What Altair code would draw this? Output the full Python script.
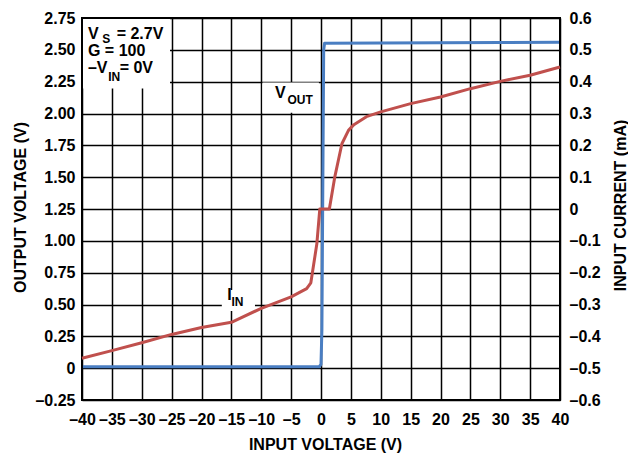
import altair as alt
import pandas as pd

# Output voltage vs input voltage (left axis, V)
vout_x = [-40, -20, -0.3, 0.0, 0.15, 0.45, 0.6, 10, 20, 30, 40]
vout_y = [0.011, 0.011, 0.011, 0.03, 0.3, 2.5, 2.552, 2.553, 2.555, 2.557, 2.56]

# Input current vs input voltage (right axis, mA)
iin_x = [-40, -35, -30, -25, -20, -15, -10, -5, -2.4, -1.7, -0.7, -0.2, 1.4,
         2.3, 3.5, 4.6, 5.5, 7.6, 10, 15, 20, 25, 30, 35, 40]
iin_y = [-0.469, -0.445, -0.42, -0.394, -0.372, -0.356, -0.312, -0.276, -0.25,
         -0.232, -0.11, 0.0, 0.0, 0.1, 0.205, 0.247, 0.265, 0.29, 0.305, 0.331,
         0.352, 0.378, 0.401, 0.42, 0.446]

x_ticks = list(range(-40, 45, 5))
left_ticks = [-0.25, 0, 0.25, 0.5, 0.75, 1.0, 1.25, 1.5, 1.75, 2.0, 2.25, 2.5, 2.75]
right_ticks = [-0.6, -0.5, -0.4, -0.3, -0.2, -0.1, 0, 0.1, 0.2, 0.3, 0.4, 0.5, 0.6]

FONT = "Liberation Sans"
BLUE = "#4a7ec2"
RED = "#c0504d"

xs = alt.Scale(domain=[-40, 40], nice=False, zero=False)
yl = alt.Scale(domain=[-0.25, 2.75], nice=False, zero=False)
yr = alt.Scale(domain=[-0.6, 0.6], nice=False, zero=False)

vout_df = pd.DataFrame({"vin": vout_x, "vout": vout_y})
iin_df = pd.DataFrame({"vin": iin_x, "iin": iin_y})

# White label backgrounds (data units of the left axis)
boxes = pd.DataFrame({
    "x1": [-40, -9.8, -16.6],
    "x2": [-25.27, -0.35, -11.05],
    "y1": [2.197, 2.006, 0.448],
    "y2": [2.75, 2.244, 0.613],
})

# Annotation text pieces: main text and subscripts
labels = pd.DataFrame({
    "x": [-39.0, -36.6, -34.2, -39.0, -39.0, -35.6, -33.7, -7.7, -5.6, -15.7, -15.0],
    "y": [2.589, 2.55, 2.589, 2.452, 2.315, 2.252, 2.315, 2.119, 2.075, 0.534, 0.487],
    "text": ["V", "S", "= 2.7V", "G = 100", "\u2013V", "IN", "= 0V", "V", "OUT", "I", "IN"],
    "size": [16, 12, 16, 16, 16, 12, 16, 16, 12, 16, 12],
})

x_axis = alt.Axis(
    values=x_ticks, title="INPUT VOLTAGE (V)", grid=True, gridColor="black",
    gridWidth=1.5, gridOpacity=1, domain=False, ticks=False, labelPadding=11,
    labelOverlap=False, labelFlush=False,
    labelExpr="datum.value < 0 ? '\u2013' + format(-datum.value, 'd') : format(datum.value, 'd')",
    titleX=243, titleY=49, titleBaseline="alphabetic",
)
left_axis = alt.Axis(
    values=left_ticks, title="OUTPUT VOLTAGE (V)", grid=True, gridColor="black",
    gridWidth=1.5, gridOpacity=1, domain=False, ticks=False, labelPadding=7,
    labelOverlap=False, labelFlush=False,
    labelExpr="datum.value == 0 ? '0' : (datum.value < 0 ? '\u2013' + format(-datum.value, '.2f') : format(datum.value, '.2f'))",
    titleAngle=270, titleX=-62, titleY=189, titleBaseline="middle", titleAlign="center",
)
right_axis = alt.Axis(
    values=right_ticks, orient="right", title="INPUT CURRENT (mA)", grid=False,
    domain=False, ticks=False, labelPadding=9, labelOverlap=False, labelFlush=False,
    labelExpr="datum.value == 0 ? '0' : (datum.value < 0 ? '\u2013' + format(-datum.value, '.1f') : format(datum.value, '.1f'))",
    titleAngle=270, titleX=60, titleY=187, titleBaseline="middle", titleAlign="center",
)

base_boxes = alt.Chart(boxes).mark_rect(color="white").encode(
    x=alt.X("x1:Q", scale=xs, axis=x_axis),
    x2="x2:Q",
    y=alt.Y("y1:Q", scale=yl, axis=left_axis),
    y2="y2:Q",
)

vout_line = alt.Chart(vout_df).mark_line(color=BLUE, strokeWidth=3, strokeJoin="round").encode(
    x=alt.X("vin:Q", scale=xs, axis=x_axis),
    y=alt.Y("vout:Q", scale=yl, axis=left_axis),
)

texts = alt.Chart(labels).mark_text(
    align="left", baseline="alphabetic", font=FONT, fontWeight="bold", color="black"
).encode(
    x=alt.X("x:Q", scale=xs, axis=x_axis),
    y=alt.Y("y:Q", scale=yl, axis=left_axis),
    text="text:N",
    size=alt.Size("size:Q", scale=None, legend=None),
)

frame = alt.Chart(vout_df).mark_rect(filled=False, stroke="black", strokeWidth=2).encode(
    x=alt.datum(-40, scale=xs, axis=x_axis), x2=alt.datum(40),
    y=alt.datum(-0.25, scale=yl, axis=left_axis), y2=alt.datum(2.75),
)

left = alt.layer(base_boxes, texts, vout_line, frame)

right = alt.Chart(iin_df).mark_line(color=RED, strokeWidth=3, strokeJoin="round").encode(
    x=alt.X("vin:Q", scale=xs, axis=x_axis),
    y=alt.Y("iin:Q", scale=yr, axis=right_axis),
)

chart = alt.layer(left, right).resolve_scale(y="independent").properties(
    width=478, height=382,
    background="white",
    autosize=alt.AutoSizeParams(type="none"),
    padding={"left": 82, "top": 18, "right": 68, "bottom": 53},
).configure_view(stroke=None).configure_axis(
    labelFont=FONT, labelFontSize=16, labelFontWeight="bold", labelColor="black",
    titleFont=FONT, titleFontSize=16, titleFontWeight="bold", titleColor="black",
)

chart.save("out.html", embed_options={"renderer": "svg", "actions": False})
